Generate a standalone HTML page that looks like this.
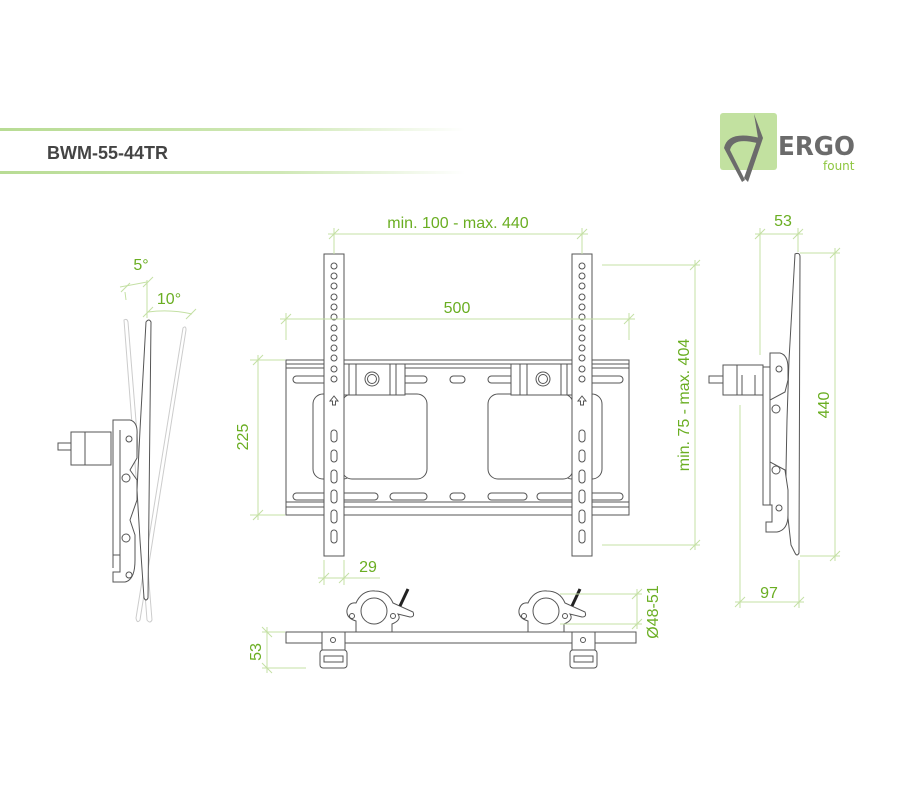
<!DOCTYPE html>
<html><head><meta charset="utf-8"><style>
html,body{margin:0;padding:0;background:#fff;}
svg{display:block;}
.d{stroke:#c4e0a4;stroke-width:1;fill:none;}
.t{fill:#6aae22;font-family:"Liberation Sans",sans-serif;font-size:16px;}
.k{stroke:#555;stroke-width:1;fill:#fff;}
.kn{stroke:#555;stroke-width:1;fill:none;}
.f{stroke:#ccc;stroke-width:1;fill:none;}
</style></head><body>
<svg width="900" height="810" viewBox="0 0 900 810" xmlns="http://www.w3.org/2000/svg">
<defs>
<linearGradient id="g" x1="0" x2="1"><stop offset="0" stop-color="#b8dc94"/><stop offset="0.6" stop-color="#cfe8b5"/><stop offset="1" stop-color="#fff"/></linearGradient>
</defs>
<rect x="0" y="128" width="465" height="3" fill="url(#g)"/>
<rect x="0" y="171" width="465" height="3" fill="url(#g)"/>
<text x="47" y="159" font-family="Liberation Sans,sans-serif" font-weight="bold" font-size="18" fill="#444">BWM-55-44TR</text>

<!-- logo -->
<rect x="720" y="113" width="57" height="57" rx="3" fill="#c2e1a0"/>
<path d="M754 114 L763 138 L748 182 L744 178 L758 138 Z" fill="#6b6b6b"/>
<path d="M724 148 Q728 130 760 138 L757 143 Q733 137 730 150 L745 180 L742 182 Z" fill="#6b6b6b"/>
<text x="778" y="155" font-family="DejaVu Sans,sans-serif" font-size="26" font-weight="bold" fill="#6b6b6b" textLength="77" lengthAdjust="spacingAndGlyphs">ERGO</text>
<text x="823" y="170" font-family="DejaVu Sans,sans-serif" font-size="12" fill="#8dc63f">fount</text>

<!-- FRONT VIEW -->
<rect class="k" x="286" y="360" width="343" height="155"/>
<g class="kn">
<line x1="286" y1="364" x2="629" y2="364"/><line x1="286" y1="368" x2="629" y2="368"/>
<line x1="286" y1="502" x2="629" y2="502"/><line x1="286" y1="507" x2="629" y2="507"/>
<rect x="293" y="376" width="134" height="7" rx="3.5"/>
<rect x="450" y="376" width="15" height="7" rx="3.5"/>
<rect x="488" y="376" width="135" height="7" rx="3.5"/>
<rect x="293" y="493" width="85" height="7" rx="3.5"/>
<rect x="390" y="493" width="37" height="7" rx="3.5"/>
<rect x="450" y="493" width="15" height="7" rx="3.5"/>
<rect x="488" y="493" width="39" height="7" rx="3.5"/>
<rect x="537" y="493" width="86" height="7" rx="3.5"/>
<rect x="313" y="394" width="40" height="85" rx="10"/>
<rect x="562" y="394" width="40" height="85" rx="10"/>
</g>
<rect class="k" x="342" y="394" width="85" height="85" rx="10"/>
<rect class="k" x="488" y="394" width="85" height="85" rx="10"/>
<!-- clamp blocks -->
<g class="k">
<rect x="340" y="364" width="65" height="31"/>
<rect x="511" y="364" width="65" height="31"/>
</g>
<g class="kn">
<line x1="349" y1="364" x2="349" y2="395"/><line x1="356" y1="364" x2="356" y2="395"/>
<line x1="390" y1="364" x2="390" y2="395"/><line x1="396" y1="364" x2="396" y2="395"/>
<line x1="520" y1="364" x2="520" y2="395"/><line x1="527" y1="364" x2="527" y2="395"/>
<line x1="561" y1="364" x2="561" y2="395"/><line x1="567" y1="364" x2="567" y2="395"/>
<circle cx="372" cy="379" r="7"/><circle cx="372" cy="379" r="4.5"/>
<circle cx="543" cy="379" r="7"/><circle cx="543" cy="379" r="4.5"/>
</g>
<!-- strips -->
<rect class="k" x="324" y="254" width="20" height="302"/>
<rect class="k" x="572" y="254" width="20" height="302"/>
<g class="kn" id="holes">
<circle cx="334" cy="266" r="3"/><circle cx="334" cy="276" r="3"/><circle cx="334" cy="286" r="3"/><circle cx="334" cy="297" r="3"/><circle cx="334" cy="307" r="3"/><circle cx="334" cy="317" r="3"/><circle cx="334" cy="328" r="3"/><circle cx="334" cy="338" r="3"/><circle cx="334" cy="348" r="3"/><circle cx="334" cy="358" r="3"/><circle cx="334" cy="369" r="3"/><circle cx="334" cy="379" r="3"/>
<path d="M334 396 L330 401 H332.5 V405 H335.5 V401 H338 Z"/>
<rect x="331" y="430" width="6" height="12" rx="3"/><rect x="331" y="450" width="6" height="12" rx="3"/>
<rect x="331" y="470" width="6" height="13" rx="3"/><rect x="331" y="490" width="6" height="13" rx="3"/>
<rect x="331" y="510" width="6" height="13" rx="3"/><rect x="331" y="530" width="6" height="13" rx="3"/>
</g>
<use href="#holes" x="248"/>

<!-- front dims -->
<g class="d">
<line x1="334" y1="228" x2="334" y2="254"/><line x1="582" y1="228" x2="582" y2="254"/>
<line x1="328" y1="234" x2="588" y2="234"/>
<line x1="329" y1="239" x2="339" y2="229"/><line x1="577" y1="239" x2="587" y2="229"/>
<line x1="286" y1="313" x2="286" y2="340"/><line x1="629" y1="313" x2="629" y2="340"/>
<line x1="280" y1="319" x2="635" y2="319"/>
<line x1="281" y1="324" x2="291" y2="314"/><line x1="624" y1="324" x2="634" y2="314"/>
<line x1="250" y1="360" x2="285" y2="360"/><line x1="250" y1="515" x2="285" y2="515"/>
<line x1="258" y1="355" x2="258" y2="520"/>
<line x1="253" y1="365" x2="263" y2="355"/><line x1="253" y1="520" x2="263" y2="510"/>
<line x1="602" y1="265" x2="700" y2="265"/><line x1="602" y1="545" x2="700" y2="545"/>
<line x1="695" y1="260" x2="695" y2="550"/>
<line x1="690" y1="270" x2="700" y2="260"/><line x1="690" y1="550" x2="700" y2="540"/>
<line x1="324" y1="560" x2="324" y2="585"/><line x1="344" y1="560" x2="344" y2="585"/>
<line x1="318" y1="578" x2="380" y2="578"/>
<line x1="319" y1="583" x2="329" y2="573"/><line x1="339" y1="583" x2="349" y2="573"/>
</g>
<text class="t" x="458" y="228" text-anchor="middle">min. 100 - max. 440</text>
<text class="t" x="457" y="313" text-anchor="middle">500</text>
<text class="t" x="0" y="0" text-anchor="middle" transform="translate(248,437) rotate(-90)">225</text>
<text class="t" x="0" y="0" text-anchor="middle" transform="translate(689,405) rotate(-90)">min. 75 - max. 404</text>
<text class="t" x="368" y="572" text-anchor="middle">29</text>

<!-- LEFT SIDE VIEW -->
<g class="f">
<path d="M124 320 Q127 318 128 322 L152 620 Q150 624 147 620 Z"/>
<path d="M183 328 Q186 325 186 330 L140 620 Q137 624 136 618 Z"/>
</g>
<path class="k" d="M146 322 Q149 318 151 322 L148 598 Q146 602 144 598 L140 540 L137 490 L138 470 L140 430 Z"/>
<rect class="k" x="71" y="432" width="40" height="33"/>
<line class="kn" x1="85" y1="432" x2="85" y2="465"/>
<rect class="k" x="58" y="443" width="13" height="7"/>
<path class="k" d="M113 420 H130 Q138 422 137 435 V458 L130 470 L137 480 V500 L130 520 L135 535 V560 Q135 580 125 582 H113 V572 H120 V555 H113 Z"/>
<line class="kn" x1="113" y1="440" x2="113" y2="568"/>
<line class="kn" x1="120" y1="430" x2="120" y2="572"/>
<circle class="kn" cx="129" cy="439" r="3"/><circle class="kn" cx="126" cy="478" r="4"/><circle class="kn" cx="126" cy="538" r="4"/><circle class="kn" cx="129" cy="575" r="3"/>
<g class="d">
<line x1="120" y1="287" x2="147" y2="282"/><line x1="125" y1="292" x2="126" y2="300"/><line x1="147" y1="280" x2="147" y2="318"/>
<line x1="121" y1="292" x2="130" y2="283"/><line x1="143" y1="287" x2="153" y2="277"/>
<path d="M148 312 Q170 309 192 314"/>
<line x1="143" y1="317" x2="153" y2="307"/><line x1="186" y1="319" x2="196" y2="309"/>
</g>
<text class="t" x="141" y="270" text-anchor="middle">5°</text>
<text class="t" x="169" y="304" text-anchor="middle">10°</text>

<!-- RIGHT SIDE VIEW -->
<path class="k" d="M795 254 Q800 252 800 257 L799 553 Q797 557 795 553 L791 545 L786 500 L786 470 L787 420 L789 360 Z"/>
<rect class="k" x="723" y="365" width="40" height="30"/>
<line class="kn" x1="737" y1="365" x2="737" y2="395"/><line class="kn" x1="742" y1="375" x2="742" y2="395"/><line class="kn" x1="755" y1="375" x2="755" y2="395"/>
<rect class="k" x="709" y="376" width="14" height="7"/>
<path class="k" d="M770 353 H780 Q788 355 788 368 V380 L785 392 L770 400 V462 L785 470 L788 490 V515 Q788 530 777 532 H766 V522 H772 V505 H763 V367 H770 Z"/>
<line class="kn" x1="770" y1="367" x2="770" y2="505"/>
<circle class="kn" cx="779" cy="369" r="3"/><circle class="kn" cx="776" cy="409" r="4"/><circle class="kn" cx="776" cy="470" r="4"/><circle class="kn" cx="779" cy="508" r="3"/>
<g class="d">
<line x1="760" y1="228" x2="760" y2="355"/><line x1="798" y1="228" x2="798" y2="252"/>
<line x1="755" y1="234" x2="803" y2="234"/>
<line x1="755" y1="239" x2="765" y2="229"/><line x1="793" y1="239" x2="803" y2="229"/>
<line x1="800" y1="253" x2="840" y2="253"/><line x1="800" y1="556" x2="840" y2="556"/>
<line x1="835" y1="248" x2="835" y2="561"/>
<line x1="830" y1="258" x2="840" y2="248"/><line x1="830" y1="561" x2="840" y2="551"/>
<line x1="740" y1="405" x2="740" y2="608"/><line x1="799" y1="560" x2="799" y2="608"/>
<line x1="735" y1="602" x2="804" y2="602"/>
<line x1="735" y1="607" x2="745" y2="597"/><line x1="794" y1="607" x2="804" y2="597"/>
</g>
<text class="t" x="783" y="226" text-anchor="middle">53</text>
<text class="t" x="0" y="0" text-anchor="middle" transform="translate(829,405) rotate(-90)">440</text>
<text class="t" x="769" y="598" text-anchor="middle">97</text>

<!-- BOTTOM VIEW -->
<g id="clamp">
<path class="k" d="M356 632 V621 Q346 618 347 610 Q349 602 356 603 Q362 590 375 591 Q388 591 393 603 L413 612 Q415 617 410 617 L398 614 Q402 620 392 624 V632 Z"/>
<circle class="k" cx="374" cy="611" r="13"/>
<circle class="kn" cx="352" cy="616" r="2.5"/><circle class="kn" cx="393" cy="616" r="2.5"/>
<line x1="400" y1="606" x2="408" y2="589" stroke="#222" stroke-width="3"/>
</g>
<use href="#clamp" x="172"/>
<rect class="k" x="286" y="632" width="350" height="11"/>
<g id="brk">
<rect class="k" x="322" y="632" width="23" height="18"/>
<rect class="k" x="320" y="650" width="27" height="18" rx="3"/>
<rect class="kn" x="324" y="656" width="19" height="6"/>
<circle class="kn" cx="333" cy="640" r="2.5"/>
</g>
<use href="#brk" x="250"/>
<g class="d">
<line x1="262" y1="632" x2="285" y2="632"/><line x1="262" y1="668" x2="306" y2="668"/>
<line x1="267" y1="627" x2="267" y2="673"/>
<line x1="262" y1="627" x2="272" y2="637"/><line x1="262" y1="663" x2="272" y2="673"/>
<line x1="560" y1="594" x2="642" y2="594"/><line x1="560" y1="624" x2="642" y2="624"/>
<line x1="637" y1="589" x2="637" y2="629"/>
<line x1="632" y1="599" x2="642" y2="589"/><line x1="632" y1="629" x2="642" y2="619"/>
</g>
<text class="t" x="0" y="0" text-anchor="middle" transform="translate(261,652) rotate(-90)">53</text>
<text class="t" x="0" y="0" text-anchor="middle" transform="translate(658,612) rotate(-90)">Ø48-51</text>
</svg>
</body></html>
